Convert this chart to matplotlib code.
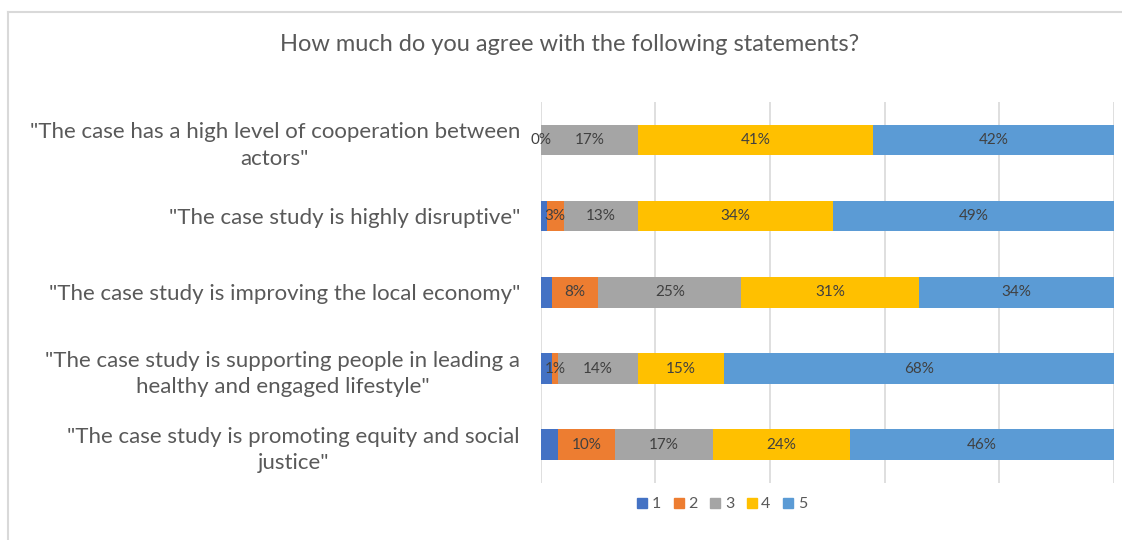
import numpy as np
import matplotlib.pyplot as plt
from matplotlib.lines import Line2D

# Likert answers per statement (percent of respondents)
categories = [
    '"The case has a high level of cooperation between\nactors"',
    '"The case study is highly disruptive"',
    '"The case study is improving the local economy"',
    '"The case study is supporting people in leading a\nhealthy and engaged lifestyle"',
    '"The case study is promoting equity and social\njustice"',
]
s1 = [0, 1, 2, 2, 3]
s2 = [0, 3, 8, 1, 10]
s3 = [17, 13, 25, 14, 17]
s4 = [41, 34, 31, 15, 24]
s5 = [42, 49, 34, 68, 46]
series_names = ['1', '2', '3', '4', '5']
colors = ['#4472C4', '#ED7D31', '#A5A5A5', '#FFC000', '#5B9BD5']

plt.rcParams['font.family'] = ['Lato', 'DejaVu Sans']
txt = '#595959'

fig = plt.figure(figsize=(11.22, 5.40), dpi=100)
ax = fig.add_axes([0.482, 0.106, 0.5108, 0.705])

y = np.arange(len(categories))
data = np.array([s1, s2, s3, s4, s5], dtype=float)
totals = data.sum(axis=0)
left = np.zeros(len(categories))
for i, vals in enumerate(data):
    share = vals / totals
    ax.barh(y, share, left=left, height=0.4, color=colors[i], zorder=3)
    if i > 0:  # labels of series 1 are hidden in the original
        for yy, l, w, v in zip(y, left, share, vals):
            ax.text(l + w / 2, yy, f'{v:.0f}%', ha='center', va='center',
                    fontsize=11, color='#404040', zorder=4)
    left += share

ax.set_xlim(0, 1)
ax.set_ylim(len(categories) - 0.5, -0.5)
ax.set_xticks(np.linspace(0, 1, 6))
ax.tick_params(axis='x', length=0, labelbottom=False)
ax.tick_params(axis='y', length=0, pad=15)
ax.set_yticks(y)
ax.set_yticklabels(categories, fontsize=16, color=txt)
for t in ax.get_yticklabels():
    t.set_multialignment('center')
    t.set_linespacing(1.4)
ax.grid(axis='x', color='#D9D9D9', linewidth=1.2, zorder=0)
for sp in ax.spines.values():
    sp.set_visible(False)

fig.text(0.508, 0.917, 'How much do you agree with the following statements?',
         ha='center', va='center', fontsize=17, color=txt)

handles = [Line2D([], [], marker='s', linestyle='none', markersize=7,
                  markerfacecolor=c, markeredgecolor=c) for c in colors]
fig.legend(handles, series_names, loc='center', bbox_to_anchor=(0.643, 0.066),
           ncol=5, frameon=False, fontsize=11.5, labelcolor=txt,
           handletextpad=0.2, columnspacing=0.7, handlelength=0.8)

# chart frame (top and left edges visible in the crop)
fig.add_artist(Line2D([0.007, 1.0], [0.977, 0.977], color='#D9D9D9', linewidth=1.5))
fig.add_artist(Line2D([0.007, 0.007], [0.0, 0.977], color='#D9D9D9', linewidth=1.5))

fig.savefig('out.png', dpi=100)
